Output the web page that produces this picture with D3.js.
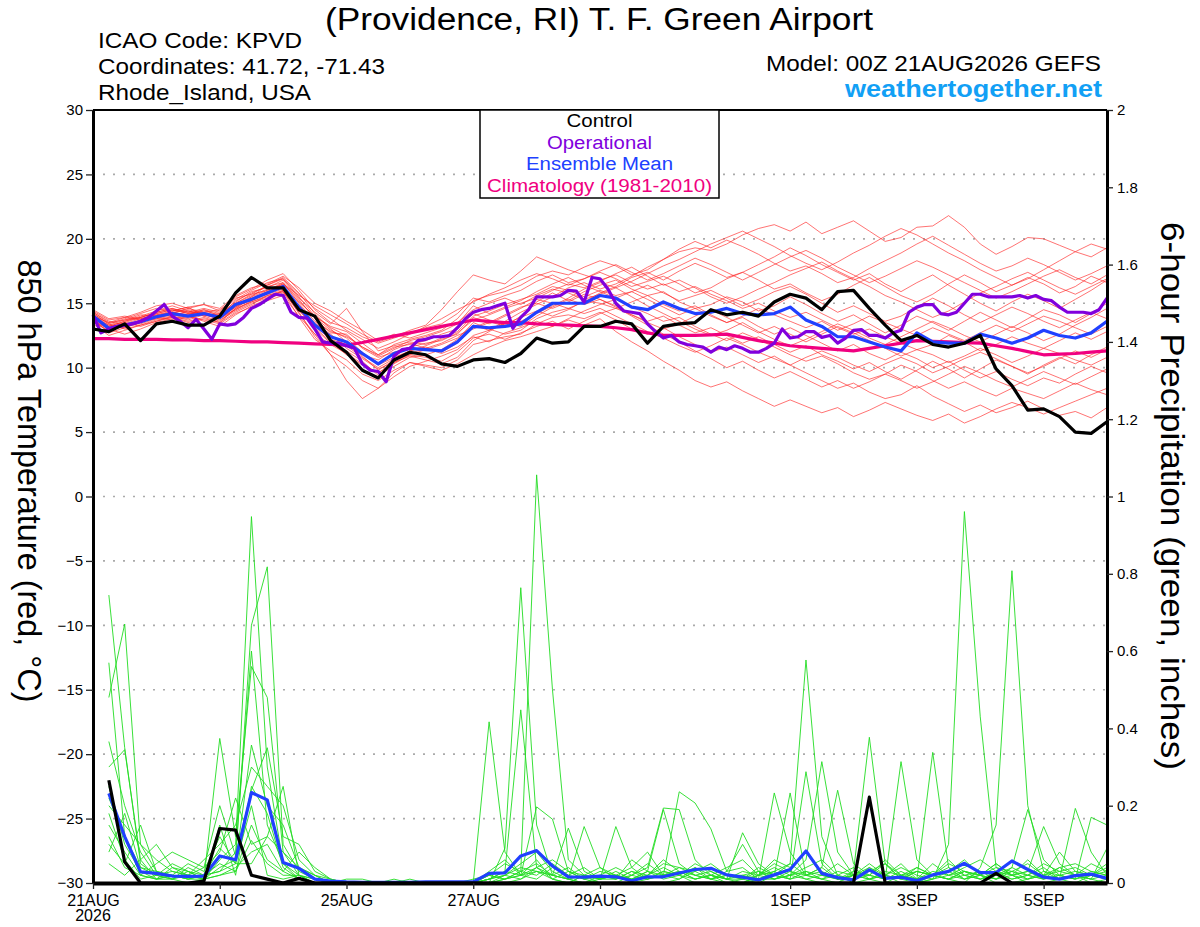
<!DOCTYPE html>
<html>
<head>
<meta charset="utf-8">
<title>KPVD GEFS 850 hPa Temperature / 6-hour Precipitation</title>
<script src="https://cdn.jsdelivr.net/npm/d3@7"></script>
<style>
  body { margin: 0; background: #fff; }
  svg { display: block; font-family: "Liberation Sans", Arial, Helvetica, sans-serif; }
  .grid line { stroke: #aaa; stroke-width: 1.6; stroke-dasharray: 2, 8; }
  .member-t { fill: none; stroke: #ff2020; stroke-width: 0.9; stroke-opacity: 0.7; }
  .member-p { fill: none; stroke: #22dd22; stroke-width: 0.9; }
  .main-line { fill: none; stroke-width: 3.2; stroke-linejoin: round; }
</style>
</head>
<body>
<div id="chart"></div>
<script>
// time steps (hours from 00Z 21AUG2026)
var runHours = d3.range(0, 385, 6);
var opHours = d3.range(0, 385, 3);

var dateLabels = ["21AUG", "23AUG", "25AUG", "27AUG", "29AUG", "1SEP", "3SEP", "5SEP"];
var dateHours = [0, 48, 96, 144, 192, 264, 312, 360];
var tempTicks = d3.range(-30, 31, 5);
var precipTicks = d3.range(0, 11).map(function (d) { return d / 5; });

var legendNames = ["Control", "Operational", "Ensemble Mean", "Climatology (1981-2010)"];
var legendColors = ["#000000", "#8000dd", "#2040ff", "#f00080"];

// 850 hPa temperature, deg C
var controlTemp = [13.0, 12.8, 13.4, 12.1, 13.4, 13.6, 13.3, 13.3, 14.0, 15.8, 17.0, 16.2, 16.2, 14.5, 14.0, 12.1, 11.2, 9.8, 9.2, 10.6, 11.2, 11.0, 10.3, 10.1, 10.6, 10.7, 10.4, 11.1, 12.3, 11.9, 12.0, 13.2, 13.2,
  13.6, 13.4, 11.9, 13.2, 13.4, 13.5, 14.5, 14.1, 14.3, 14.0, 15.1, 15.7, 15.4, 14.5, 15.9, 16.0, 14.6, 13.3, 12.1, 12.5, 11.8, 11.6, 11.9, 12.5, 9.9, 8.6, 6.7, 6.8, 6.2, 5.0, 4.9, 5.8];

var meanTemp = [14.0, 13.05, 13.3, 13.56, 13.95, 14.2, 14.0, 14.2, 13.9, 14.9, 15.3, 15.8, 16.3, 14.7, 13.3, 12.4, 12.0, 11.1, 10.3, 11.1, 11.5, 11.4, 11.3, 12.0, 13.2, 13.1, 13.2, 13.4, 14.3, 15.0, 15.0, 15.0, 15.6,
  15.4, 14.7, 14.5, 15.1, 14.6, 14.2, 14.3, 14.6, 14.2, 14.1, 14.2, 14.7, 13.7, 13.2, 12.4, 12.4, 12.0, 11.6, 11.3, 12.7, 12.0, 11.9, 11.9, 12.6, 12.3, 11.9, 12.3, 12.9, 12.5, 12.3, 12.7, 13.6];

var climTemp = [12.25, 12.25, 12.2, 12.2, 12.2, 12.15, 12.15, 12.1, 12.1, 12.05, 12.0, 12.0, 11.95, 11.9, 11.85, 11.8, 11.75,
  11.95, 12.2, 12.45, 12.7, 12.95, 13.2, 13.45, 13.7, 13.6, 13.5, 13.5, 13.4, 13.35, 13.3, 13.25, 13.2,
  13.1, 12.95, 12.7, 12.5, 12.5, 12.5, 12.55, 12.6, 12.35, 12.1, 11.9, 11.7, 11.6, 11.5, 11.4, 11.3,
  11.5, 11.7, 11.9, 12.1, 12.05, 12.0, 11.95, 11.9, 11.7, 11.5, 11.25, 11.0, 11.05, 11.1, 11.2, 11.3];

// operational run, 3-hourly
var opTemp = [14.1, 12.7, 13.0, 13.2, 13.3, 13.4, 13.6, 13.9, 14.4, 14.9, 14.0, 13.6, 13.1, 13.75, 13.0, 12.2,
  13.4, 13.3, 13.4, 13.9, 14.6, 14.9, 15.3, 15.7, 15.6, 14.3, 13.9, 13.85, 13.0, 12.0, 11.9, 11.9,
  11.7, 11.5, 10.3, 9.8, 9.7, 8.9, 10.9, 11.4, 11.5, 12.1, 12.2, 12.4, 12.4, 12.5, 13.1, 13.8,
  14.3, 14.5, 14.6, 14.8, 15.0, 13.05, 13.9, 14.5, 15.5, 15.5, 15.5, 15.6, 16.0, 15.95, 15.1, 17.0,
  16.9, 16.1, 15.0, 14.4, 14.3, 14.2, 13.4, 12.8, 12.3, 12.5, 12.0, 11.8, 11.7, 11.6, 11.2, 11.6,
  11.4, 11.7, 11.5, 11.2, 11.2, 11.5, 11.9, 13.0, 12.3, 12.4, 12.8, 12.8, 12.35, 12.5, 11.9, 12.3,
  12.9, 12.95, 12.5, 12.5, 12.3, 12.7, 12.9, 14.3, 14.7, 14.9, 14.9, 14.2, 14.1, 14.3, 15.0, 15.7,
  15.7, 15.5, 15.5, 15.5, 15.5, 15.6, 15.4, 15.6, 15.3, 15.2, 14.7, 14.3, 14.3, 14.3, 14.2, 14.5,
  15.4];

var memberTemps = [
  [13.8, 13.2, 13.6, 13.9, 14.3, 14.6, 14.2, 14.5, 14.0, 15.2, 15.8, 16.3, 16.6, 15.0, 13.6, 12.8, 12.4, 11.6, 11.0, 11.8, 12.2, 12.5, 12.9, 13.8, 15.2, 15.6, 15.9, 16.4, 17.1, 17.5, 17.2, 17.8, 18.3, 17.9, 17.2, 17.6, 18.4, 19.0, 19.3, 19.1, 19.6, 20.3, 20.8, 21.1, 20.6, 21.3, 20.4, 20.9, 21.4, 20.6, 19.8, 20.1, 20.9, 21.0, 21.8, 20.9, 19.6, 18.8, 19.4, 20.1, 20.0, 19.5, 19.0, 18.6, 19.3],
  [14.2, 13.4, 13.0, 13.3, 13.6, 13.9, 13.5, 13.8, 13.5, 14.6, 15.1, 15.5, 15.9, 14.3, 12.4, 11.0, 10.1, 9.0, 8.4, 9.6, 10.4, 10.2, 10.0, 10.6, 11.8, 12.1, 12.4, 12.6, 13.4, 13.9, 14.1, 13.8, 14.3, 13.7, 13.0, 12.6, 13.1, 12.4, 11.8, 11.2, 11.6, 11.0, 10.4, 10.9, 10.2, 9.6, 9.0, 8.4, 8.8, 8.1, 7.6, 7.9, 8.6, 7.8, 7.2, 6.6, 7.1, 6.5, 6.9, 7.4, 6.8, 6.3, 6.6, 6.1, 6.9],
  [13.6, 12.8, 13.4, 13.8, 14.1, 14.4, 14.7, 14.0, 13.6, 14.6, 15.4, 15.9, 16.5, 15.2, 13.9, 12.9, 12.3, 11.2, 10.2, 10.8, 11.3, 11.6, 11.2, 11.9, 13.1, 13.6, 13.2, 14.0, 15.1, 15.8, 15.2, 15.9, 16.4, 16.8, 16.1, 15.6, 15.9, 15.1, 14.6, 14.9, 15.5, 15.1, 14.4, 14.8, 15.5, 14.9, 14.2, 13.6, 14.1, 13.4, 12.7, 13.3, 14.0, 13.5, 12.9, 13.6, 14.3, 13.7, 13.1, 13.8, 14.5, 14.1, 13.5, 14.2, 15.0],
  [14.4, 13.7, 13.9, 14.3, 14.8, 15.0, 14.6, 14.9, 14.4, 15.5, 16.1, 16.8, 17.3, 16.0, 14.5, 13.5, 13.1, 12.4, 11.9, 12.3, 12.7, 13.1, 13.4, 14.2, 15.4, 15.1, 15.6, 16.0, 16.7, 17.2, 16.6, 16.9, 17.4, 16.9, 16.3, 16.7, 17.1, 16.5, 15.8, 16.2, 16.9, 17.4, 16.8, 16.1, 16.5, 15.8, 15.2, 15.7, 16.4, 17.0, 16.3, 15.6, 15.1, 15.7, 16.5, 17.2, 16.6, 15.9, 16.4, 17.0, 16.5, 15.8, 16.3, 17.1, 16.6],
  [13.9, 13.0, 12.6, 13.0, 13.5, 13.8, 14.0, 13.6, 13.2, 14.1, 14.8, 15.3, 15.8, 14.9, 13.4, 12.6, 11.5, 10.7, 9.9, 10.4, 10.9, 10.6, 10.3, 10.8, 12.1, 12.8, 13.5, 13.2, 14.0, 14.7, 15.3, 14.9, 15.3, 14.8, 14.1, 13.6, 14.0, 13.3, 12.7, 13.1, 12.5, 11.9, 12.4, 11.8, 11.2, 11.7, 11.0, 10.5, 9.9, 10.4, 9.7, 9.1, 9.8, 10.5, 9.9, 9.2, 9.9, 10.6, 10.1, 9.5, 10.2, 10.8, 10.3, 11.0, 11.6],
  [14.1, 13.3, 13.7, 14.1, 14.0, 14.3, 14.1, 14.4, 14.1, 15.0, 15.6, 16.1, 16.4, 14.6, 13.0, 11.9, 11.3, 10.5, 9.4, 10.1, 10.8, 11.0, 11.4, 12.2, 13.5, 13.0, 12.6, 12.9, 13.8, 14.3, 14.6, 15.1, 15.8, 16.3, 17.0, 17.4, 16.8, 17.5, 18.1, 17.6, 17.0, 17.4, 18.0, 18.6, 19.3, 18.7, 18.0, 17.4, 16.8, 17.3, 16.5, 15.9, 16.6, 17.2, 16.4, 15.7, 15.0, 14.4, 15.1, 15.7, 15.2, 14.6, 15.3, 16.0, 16.8],
  [13.5, 12.9, 13.2, 13.5, 13.9, 14.1, 13.8, 14.2, 13.7, 14.4, 15.0, 15.4, 16.0, 14.2, 12.6, 11.0, 9.0, 7.6, 8.4, 9.3, 10.1, 10.5, 10.9, 11.4, 12.5, 12.9, 13.4, 13.9, 14.4, 14.0, 14.5, 15.2, 15.0, 14.6, 15.1, 15.6, 14.9, 14.4, 14.8, 14.1, 13.5, 13.9, 13.2, 12.6, 13.1, 12.5, 11.9, 11.3, 11.8, 11.1, 10.6, 11.2, 10.7, 10.0, 10.5, 9.8, 9.2, 9.7, 9.1, 8.6, 9.2, 8.8, 9.5, 10.1, 9.6],
  [14.0, 13.5, 13.9, 13.7, 14.2, 14.5, 14.3, 14.0, 14.2, 15.1, 15.9, 16.2, 16.8, 15.4, 14.3, 13.4, 14.6, 12.8, 11.3, 11.7, 12.0, 11.8, 12.3, 12.8, 14.0, 14.4, 14.9, 15.3, 15.7, 16.3, 16.0, 15.5, 16.0, 15.6, 15.9, 16.4, 15.8, 15.2, 15.6, 16.0, 15.4, 14.8, 15.3, 15.9, 16.3, 15.7, 15.0, 14.3, 14.8, 14.2, 13.6, 14.0, 14.7, 15.4, 14.8, 14.1, 13.5, 14.1, 14.7, 14.2, 13.6, 13.1, 13.7, 14.3, 13.8],
  [13.7, 13.1, 13.5, 13.2, 13.6, 14.0, 14.4, 14.1, 13.8, 14.8, 15.2, 15.7, 16.1, 14.4, 13.2, 12.2, 11.8, 11.0, 10.6, 11.4, 11.9, 11.5, 11.1, 11.6, 12.4, 12.0, 12.7, 13.1, 13.6, 13.2, 13.8, 14.4, 14.9, 15.3, 14.7, 14.2, 13.6, 13.9, 13.2, 12.6, 12.1, 12.7, 12.2, 11.6, 11.0, 10.5, 10.9, 10.3, 9.6, 9.1, 9.5, 10.2, 9.7, 9.0, 8.4, 8.9, 8.3, 7.8, 8.4, 8.0, 7.6, 8.2, 8.8, 8.3, 7.9],
  [14.3, 13.6, 13.3, 13.7, 14.0, 14.2, 14.6, 14.3, 14.5, 15.4, 15.7, 16.0, 16.5, 15.6, 14.8, 14.1, 13.4, 12.6, 12.0, 12.4, 12.9, 13.3, 14.5, 15.9, 17.2, 16.8, 16.5, 17.5, 18.6, 18.1, 17.6, 17.2, 16.8, 17.2, 16.6, 16.1, 16.5, 15.9, 16.3, 15.7, 15.2, 14.6, 15.0, 14.4, 13.9, 14.3, 13.7, 13.1, 12.6, 13.0, 12.4, 11.9, 11.4, 11.8, 12.5, 12.0, 11.3, 11.8, 12.4, 11.9, 11.5, 12.1, 12.7, 12.2, 12.8],
  [13.8, 12.7, 13.1, 13.6, 13.8, 14.0, 13.7, 14.1, 13.9, 14.7, 15.3, 15.9, 16.2, 15.1, 14.0, 13.2, 12.8, 11.9, 11.0, 11.6, 11.8, 12.1, 12.6, 13.0, 14.2, 13.7, 13.3, 13.6, 14.2, 14.8, 15.4, 16.1, 16.6, 16.2, 15.5, 14.8, 14.2, 13.6, 13.0, 12.5, 12.9, 13.5, 12.8, 12.2, 11.7, 12.2, 12.8, 13.4, 12.9, 12.3, 11.8, 12.4, 13.0, 13.6, 13.1, 12.5, 12.0, 12.6, 13.2, 12.7, 12.1, 12.6, 13.3, 13.9, 14.6],
  [14.5, 13.8, 14.0, 13.8, 14.1, 14.3, 14.1, 14.5, 14.2, 14.9, 15.5, 16.4, 17.0, 15.8, 14.2, 13.0, 12.0, 10.9, 9.8, 10.6, 11.0, 11.4, 11.8, 12.3, 13.3, 12.9, 13.6, 14.3, 14.9, 15.5, 16.2, 16.6, 16.1, 16.5, 17.1, 17.8, 18.4, 19.2, 19.8, 19.3, 19.9, 19.4, 18.8, 18.1, 17.5, 17.9, 17.3, 16.6, 17.0, 17.7, 18.3, 18.9, 19.6, 20.2, 19.5, 18.8, 18.1, 17.5, 17.9, 18.5, 18.0, 17.4, 16.8, 17.3, 17.9],
  [13.4, 12.5, 12.9, 13.3, 13.7, 13.9, 13.6, 13.9, 13.5, 14.3, 14.9, 15.6, 15.9, 13.9, 12.2, 11.3, 10.6, 9.5, 9.0, 9.8, 10.4, 10.1, 9.8, 10.3, 11.0, 11.6, 12.1, 12.4, 12.8, 13.2, 13.7, 13.3, 13.8, 12.8, 12.0, 11.3, 10.5, 9.8, 9.0, 8.5, 8.9, 8.2, 7.6, 7.0, 7.5, 7.0, 6.5, 6.9, 6.2, 6.7, 7.3, 6.8, 6.3, 5.9, 6.4, 5.7, 6.2, 6.8, 7.3, 6.9, 6.4, 6.9, 7.4, 7.9, 8.4],
  [14.0, 13.2, 13.6, 14.0, 14.4, 14.8, 14.4, 14.1, 13.8, 14.7, 15.5, 16.0, 16.6, 15.3, 13.8, 12.7, 12.6, 11.5, 10.8, 11.2, 11.6, 11.9, 12.1, 12.7, 13.7, 14.1, 14.6, 15.0, 15.4, 16.0, 16.5, 16.2, 16.7, 17.3, 17.8, 17.1, 16.4, 16.8, 16.2, 15.5, 15.0, 15.5, 16.1, 16.6, 17.2, 17.7, 18.2, 17.5, 16.9, 16.3, 15.6, 15.1, 14.5, 13.9, 14.4, 15.1, 15.8, 16.3, 16.9, 17.4, 16.8, 16.2, 15.7, 16.3, 16.9],
  [13.6, 13.0, 13.3, 13.4, 13.8, 14.2, 14.0, 13.7, 13.4, 14.2, 14.7, 15.2, 15.6, 14.0, 12.6, 11.8, 11.1, 10.3, 9.6, 10.3, 11.0, 10.8, 10.5, 11.2, 12.3, 12.6, 12.2, 12.7, 13.2, 13.6, 13.0, 13.6, 14.2, 14.6, 14.1, 13.5, 13.0, 13.4, 14.0, 14.5, 13.9, 13.3, 12.7, 13.2, 12.6, 12.0, 12.6, 13.2, 12.7, 12.1, 11.5, 10.9, 11.4, 11.0, 10.4, 10.9, 11.5, 11.0, 10.4, 10.9, 11.5, 11.1, 10.6, 10.2, 10.8],
  [14.2, 13.4, 13.8, 14.2, 14.6, 14.4, 14.7, 14.9, 14.6, 15.6, 16.2, 16.5, 17.1, 16.2, 15.0, 14.4, 13.6, 12.9, 12.1, 12.6, 12.3, 12.7, 13.1, 13.5, 14.5, 15.0, 15.4, 14.9, 15.6, 16.1, 15.8, 15.3, 15.7, 16.2, 16.7, 17.3, 17.9, 18.4, 19.0, 19.6, 20.1, 20.6, 20.0, 19.4, 18.7, 18.1, 17.6, 18.2, 18.9, 19.5, 20.2, 20.8, 20.3, 19.6, 18.9, 18.3, 17.6, 17.0, 16.4, 16.9, 17.6, 18.3, 19.0, 19.6, 19.2],
  [13.9, 13.3, 13.1, 13.5, 13.9, 13.7, 13.9, 14.2, 13.9, 14.5, 15.2, 15.8, 16.3, 14.7, 13.5, 12.5, 11.7, 10.8, 10.0, 10.7, 11.3, 11.7, 12.2, 12.6, 13.9, 13.4, 14.0, 14.6, 15.3, 15.0, 14.6, 14.2, 14.6, 14.0, 13.4, 12.8, 12.3, 11.7, 11.2, 11.7, 12.3, 11.8, 11.2, 10.7, 10.2, 10.8, 11.3, 10.8, 10.2, 9.7, 10.3, 10.8, 10.3, 9.6, 10.1, 10.7, 11.2, 10.7, 10.1, 9.6, 10.1, 10.7, 11.3, 10.8, 11.4],
  [14.1, 13.1, 13.5, 13.9, 14.3, 14.6, 14.3, 14.6, 14.3, 15.3, 16.0, 16.6, 16.9, 15.5, 14.0, 13.1, 12.5, 11.6, 10.9, 11.5, 12.1, 12.4, 12.8, 13.4, 14.8, 14.2, 14.7, 15.2, 15.9, 16.5, 17.0, 16.4, 15.9, 15.4, 15.9, 15.3, 14.7, 14.1, 14.6, 14.0, 13.5, 14.0, 14.6, 14.1, 13.6, 13.1, 13.6, 12.9, 13.4, 14.0, 13.5, 13.0, 12.5, 13.1, 12.6, 12.1, 12.7, 13.3, 12.8, 13.4, 14.0, 13.6, 13.1, 12.6, 13.2],
  [13.7, 13.0, 13.2, 13.6, 14.0, 14.3, 14.5, 14.2, 13.8, 14.5, 15.1, 15.6, 16.0, 14.5, 13.1, 12.0, 11.0, 10.2, 9.6, 10.4, 11.1, 11.5, 11.9, 12.5, 13.0, 13.5, 14.1, 14.7, 15.0, 14.6, 15.1, 15.7, 15.3, 14.7, 14.0, 13.3, 12.6, 12.0, 11.3, 10.7, 10.0, 10.5, 9.8, 9.2, 9.7, 9.1, 8.5, 9.0, 8.4, 8.9, 9.5, 9.0, 8.4, 8.9, 9.5, 10.1, 9.6, 9.0, 8.5, 9.1, 9.7, 9.2, 8.7, 9.3, 9.9],
  [14.3, 13.5, 13.7, 13.9, 14.2, 14.5, 14.2, 14.3, 14.0, 15.0, 15.7, 16.4, 16.9, 15.7, 14.6, 13.8, 12.9, 12.2, 11.5, 12.0, 12.6, 13.2, 13.8, 14.5, 15.1, 15.7, 16.2, 16.8, 17.3, 16.9, 16.4, 16.9, 17.5, 18.0, 17.4, 16.8, 17.3, 17.9, 18.5, 18.0, 17.4, 16.8, 17.4, 18.0, 18.6, 19.1, 18.5, 17.8, 17.2, 16.6, 17.1, 17.7, 18.3, 17.8, 17.2, 16.6, 16.0, 15.4, 15.9, 16.5, 17.1, 17.6, 17.0, 16.5, 17.2]
];

// 6-hour precipitation, inches (first value is the 06Z total)
var controlPrecip = [.266, .055, 0, 0, 0, 0, .005, .141, .137, .02, .01, 0, .012, 0, 0, 0,
  0, 0, 0, 0, 0, 0, 0, 0, 0, 0, 0, 0, 0, 0, 0, 0,
  0, 0, 0, 0, 0, 0, 0, 0, 0, 0, 0, 0, 0, 0, 0, 0,
  .222, 0, 0, 0, 0, 0, 0, 0, .025, 0, 0, 0, 0, 0, 0, 0];

var meanPrecip = [.232, .12, .029, .025, .018, .017, .018, .07, .06, .234, .215, .053, .038, .01, .005, .003,
  .002, .002, .002, .002, .003, .003, .003, .003, .025, .026, .07, .084, .044, .016, .015, .018,
  .016, .006, .016, .016, .026, .035, .038, .021, .015, .008, .021, .035, .083, .025, .014, .008,
  .034, .012, .015, .006, .021, .03, .051, .027, .027, .057, .035, .015, .01, .019, .023, .012];

var memberPrecip = [
  [.745, .35, .05, .02, .01, 0, .01, .06, .10, .948, .30, .05, .02, 0, 0, 0, 0, 0, 0, 0, 0, 0, 0, 0, .02, .05, .03, 1.056, .50, .06, .02, 0, 0, 0, .01, .03, .02, 0, 0, 0, 0, .02, .05, .03, .01, 0, 0, .02, .05, .02, 0, 0, .01, .03, .06, .02, 0, 0, .01, .02, .04, .02, 0, .01],
  [.57, .12, .04, .02, .03, .02, .01, .04, .06, .667, .818, .10, .03, .01, 0, 0, 0, 0, 0, 0, 0, 0, 0, 0, 0, .09, .764, .15, .02, .01, 0, .01, .02, 0, 0, 0, .01, .04, .02, 0, .01, 0, .02, .05, .577, .12, .02, 0, .01, 0, .02, 0, .01, .10, .961, .43, .04, .02, 0, 0, .01, .02, .01, 0],
  [.48, .67, .10, .03, .01, .04, .02, .03, .08, .60, .15, .05, .01, 0, 0, 0, 0, 0, 0, 0, 0, 0, 0, 0, .417, .08, .02, .03, .01, 0, .02, .04, .01, .06, .03, .19, .05, .02, .01, 0, 0, .01, .233, .08, .02, .01, 0, .03, .377, .05, .01, 0, .02, .01, 0, .04, .15, .808, .20, .03, .01, 0, .02, .05],
  [.366, .20, .08, .02, .05, .03, .01, .374, .12, .56, .48, .08, .02, 0, 0, .01, .01, 0, 0, 0, 0, 0, 0, 0, .01, .03, .448, .04, .01, 0, .02, .01, .146, .04, .01, .02, .03, .01, .02, .01, .13, .05, .02, .233, .02, .04, .01, .01, .02, .06, .02, .01, .338, .04, .01, .02, .01, .03, .05, .02, .01, .193, .08, .02],
  [.30, .345, .06, .01, .02, .05, .03, .12, .05, .357, .20, .15, .04, .02, 0, 0, 0, 0, 0, .01, 0, 0, 0, 0, 0, .01, .02, .197, .165, .03, .01, 0, 0, .02, .04, .194, .19, .06, .02, .01, 0, .02, .03, .01, .288, .05, .01, .02, .04, .01, .314, .06, .02, .01, .02, .03, .01, .04, .19, .06, .02, .01, .17, .15],
  [.20, .15, .10, .06, .03, .02, .04, .20, .07, .24, .35, .12, .10, .03, .01, 0, 0, 0, 0, 0, 0, 0, 0, 0, .02, .01, .03, .05, .02, .142, .03, .01, .02, .01, .03, .02, .236, .207, .14, .03, .10, .03, .01, .02, .06, .314, .08, .02, .01, .02, .01, .04, .02, .01, .03, .02, .05, .02, .03, .146, .05, .02, .01, .02],
  [.25, .10, .03, .01, .01, .02, .06, .10, .15, .30, .25, .20, .06, .02, .01, 0, 0, 0, 0, 0, 0, 0, 0, 0, .01, .02, .05, .08, .03, .01, .146, .04, .02, .01, .02, .06, .03, .02, .01, .02, .01, .03, .02, .01, .02, .04, .24, .05, .02, .01, .03, .01, .05, .02, .01, .03, .02, .01, .02, .05, .03, .02, .01, .09],
  [.15, .08, .02, .05, .08, .06, .04, .08, .22, .10, .12, .25, .02, .01, 0, 0, 0, 0, 0, 0, 0, 0, 0, 0, .03, .06, .02, .01, .04, .02, .01, .03, .02, .04, .08, .02, .01, .03, .05, .02, .01, .02, .06, .04, .08, .02, .01, .03, .02, .05, .01, .03, .02, .06, .02, .01, .03, .02, .06, .02, .08, .03, .02, .04],
  [.10, .05, .15, .03, .02, .01, .02, .05, .03, .15, .06, .03, .01, 0, 0, 0, 0, 0, .01, 0, 0, 0, 0, 0, 0, 0, .01, .03, .02, .01, 0, .02, .01, .03, .01, .02, .04, .03, .01, .02, .02, .01, .01, .03, .02, .01, .03, .02, .01, .03, .02, .01, .02, .03, .01, .02, .01, .02, .01, .03, .02, .01, .02, .03],
  [.05, .02, .06, .10, .04, .03, .01, .02, .04, .08, .10, .03, .08, .04, .01, 0, 0, 0, 0, 0, 0, 0, 0, 0, 0, .01, .02, .04, .06, .03, .01, .02, .04, .02, .01, .03, .02, .05, .03, .01, .02, .03, .01, .02, .03, .01, .02, .04, .01, .02, .04, .02, .01, .02, .03, .01, .02, .04, .02, .01, .02, .03, .02, .01],
  [.12, .04, .02, .01, .02, .01, .02, .03, .05, .05, .12, .08, .04, .02, 0, 0, 0, 0, 0, 0, 0, 0, 0, .01, .02, .01, .03, .02, .05, .02, .04, .01, .01, .02, .05, .02, .03, .01, .02, .04, .06, .02, .04, .02, .01, .02, .05, .02, .03, .05, .02, .04, .02, .01, .03, .02, .05, .02, .03, .01, .04, .05, .03, .02],
  [.08, .18, .04, .03, .02, .01, .01, .02, .03, .11, .05, .02, .02, .01, 0, 0, 0, 0, 0, 0, 0, 0, 0, 0, .01, .02, .01, .04, .02, .01, .02, .01, .02, .01, .02, .04, .02, .01, .02, .01, .01, .04, .02, .01, .03, .02, .01, .02, .02, .01, .02, .03, .02, .04, .02, .01, .02, .03, .02, .01, .02, .01, .03, .02],
  [.18, .06, .01, .02, .01, .03, .02, .09, .05, .20, .02, .01, .02, 0, 0, 0, 0, 0, 0, 0, 0, 0, 0, 0, .01, .03, .02, .06, .01, .03, .02, .01, .03, .01, .03, .01, .02, .04, .01, .03, .04, .01, .03, .05, .02, .03, .01, .02, .03, .02, .05, .01, .03, .02, .04, .06, .03, .01, .02, .04, .01, .02, .05, .03],
  [.22, .12, .02, .01, .04, .02, .01, .15, .02, .25, .18, .04, .01, 0, 0, 0, 0, 0, 0, 0, 0, 0, 0, 0, 0, .02, .04, .03, .02, .04, .01, .02, .01, .03, .02, .05, .04, .02, .03, .01, .03, .02, .01, .02, .04, .06, .02, .01, .04, .02, .01, .03, .02, .05, .03, .02, .04, .03, .01, .02, .03, .04, .02, .01]
];

function MeteogramChart(config) {
    this._config = {
        renderTo: config.renderTo,
        width: 1200,
        height: 927,
        plot: { left: 93, right: 1107, top: 110, bottom: 883 },
        font: '"Liberation Sans", Arial, Helvetica, sans-serif'
    };
    this.renderUI();
}

MeteogramChart.prototype.renderUI = function () {
    var c = this._config, p = c.plot;
    var svg = d3.select(c.renderTo).append("svg")
        .attr("width", c.width)
        .attr("height", c.height);

    this.x = d3.scaleLinear().domain([0, 384]).range([p.left, p.right]);
    this.yT = d3.scaleLinear().domain([-30, 30]).range([p.bottom, p.top]);
    this.yP = d3.scaleLinear().domain([0, 2]).range([p.bottom, p.top]);

    this.drawGrid(svg);
    this.drawSeries(svg);
    this.drawAxes(svg);
    this.drawLegend(svg);
    this.drawTexts(svg);
};

MeteogramChart.prototype.drawGrid = function (svg) {
    var p = this._config.plot, yT = this.yT;
    svg.append("g").attr("class", "grid")
        .selectAll("line")
        .data(tempTicks.filter(function (d) { return d > -30 && d < 30; }))
        .enter().append("line")
        .attr("x1", p.left).attr("x2", p.right)
        .attr("y1", function (d) { return yT(d); })
        .attr("y2", function (d) { return yT(d); });
};

MeteogramChart.prototype.drawSeries = function (svg) {
    var x = this.x, yT = this.yT, yP = this.yP;

    var tempLine = d3.line()
        .x(function (d, i) { return x(runHours[i]); })
        .y(function (d) { return yT(d); });
    var opLine = d3.line()
        .x(function (d, i) { return x(opHours[i]); })
        .y(function (d) { return yT(d); });
    // precip totals start at the 06Z step
    var precipLine = d3.line()
        .x(function (d, i) { return x(runHours[i + 1]); })
        .y(function (d) { return yP(d); });

    var g = svg.append("g");

    g.selectAll(".member-t")
        .data(memberTemps)
        .enter().append("path")
        .attr("class", "member-t")
        .attr("d", tempLine);

    g.selectAll(".member-p")
        .data(memberPrecip)
        .enter().append("path")
        .attr("class", "member-p")
        .attr("d", precipLine);

    g.append("path").attr("class", "main-line")
        .attr("stroke", legendColors[3]).attr("d", tempLine(climTemp));
    g.append("path").attr("class", "main-line")
        .attr("stroke", legendColors[2]).attr("d", tempLine(meanTemp));
    g.append("path").attr("class", "main-line")
        .attr("stroke", legendColors[1]).attr("d", opLine(opTemp));
    g.append("path").attr("class", "main-line")
        .attr("stroke", legendColors[0]).attr("d", tempLine(controlTemp));

    g.append("path").attr("class", "main-line")
        .attr("stroke", legendColors[2]).attr("d", precipLine(meanPrecip));
    g.append("path").attr("class", "main-line")
        .attr("stroke", legendColors[0]).attr("d", precipLine(controlPrecip));
};

MeteogramChart.prototype.drawAxes = function (svg) {
    var c = this._config, p = c.plot;

    var left = svg.append("g")
        .attr("transform", "translate(" + p.left + ",0)")
        .call(d3.axisLeft(this.yT).tickValues(tempTicks).tickSize(7).tickSizeOuter(0).tickPadding(3));
    var right = svg.append("g")
        .attr("transform", "translate(" + p.right + ",0)")
        .call(d3.axisRight(this.yP).tickValues(precipTicks).tickSize(6).tickSizeOuter(0).tickPadding(4)
            .tickFormat(function (d) { return String(+d.toFixed(1)); }));
    var bottom = svg.append("g")
        .attr("transform", "translate(0," + p.bottom + ")")
        .call(d3.axisBottom(this.x).tickValues(dateHours).tickSize(6).tickSizeOuter(0).tickPadding(6)
            .tickFormat(function (d, i) { return dateLabels[i]; }));

    [left, right, bottom].forEach(function (a) {
        a.attr("font-family", c.font).attr("font-size", 15);
        a.selectAll(".tick line").attr("stroke", "#222").attr("stroke-width", 1.3);
        a.select(".domain").attr("stroke", "#000").attr("stroke-width", 3);
    });
    bottom.attr("font-size", 16);
    bottom.select(".domain").attr("stroke-width", 4);

    bottom.append("text")
        .attr("x", this.x(0)).attr("y", 38)
        .attr("fill", "#000").attr("text-anchor", "middle")
        .text("2026");

    // top frame
    svg.append("line")
        .attr("x1", p.left).attr("x2", p.right)
        .attr("y1", p.top).attr("y2", p.top)
        .attr("stroke", "#000").attr("stroke-width", 2);
};

MeteogramChart.prototype.drawLegend = function (svg) {
    var g = svg.append("g");
    g.append("rect")
        .attr("x", 480).attr("y", 110)
        .attr("width", 239).attr("height", 88)
        .attr("fill", "#fff").attr("stroke", "#000").attr("stroke-width", 1.5);

    var widths = [66, 105, 147, 225];
    g.selectAll("text")
        .data(legendNames)
        .enter().append("text")
        .attr("x", 599.5)
        .attr("y", function (d, i) { return 127 + i * 21.7; })
        .attr("text-anchor", "middle")
        .attr("font-size", 18)
        .attr("textLength", function (d, i) { return widths[i]; })
        .attr("lengthAdjust", "spacingAndGlyphs")
        .attr("fill", function (d, i) { return legendColors[i]; })
        .text(function (d) { return d; });
};

MeteogramChart.prototype.drawTexts = function (svg) {
    var add = function (str, x, y, size, len, anchor) {
        return svg.append("text")
            .attr("x", x).attr("y", y)
            .attr("font-size", size)
            .attr("text-anchor", anchor || "start")
            .attr("textLength", len)
            .attr("lengthAdjust", "spacingAndGlyphs")
            .text(str);
    };

    add("(Providence, RI) T. F. Green Airport", 599, 30, 31, 548, "middle");
    add("ICAO Code: KPVD", 98, 48, 22, 204);
    add("Coordinates: 41.72, -71.43", 98, 74, 22, 287);
    add("Rhode_Island, USA", 98, 100, 22, 213);
    add("Model: 00Z 21AUG2026 GEFS", 1101, 71, 22, 335, "end");
    add("weathertogether.net", 1102, 97, 24, 257, "end")
        .attr("font-weight", "bold").attr("fill", "#12a0f5");

    svg.append("text")
        .attr("transform", "translate(18,481) rotate(90)")
        .attr("text-anchor", "middle")
        .attr("font-size", 34)
        .attr("textLength", 443)
        .attr("lengthAdjust", "spacingAndGlyphs")
        .text("850 hPa Temperature (red, \u00b0C)");

    svg.append("text")
        .attr("transform", "translate(1161,496) rotate(90)")
        .attr("text-anchor", "middle")
        .attr("font-size", 34)
        .attr("textLength", 548)
        .attr("lengthAdjust", "spacingAndGlyphs")
        .text("6-hour Precipitation (green, inches)");
};

new MeteogramChart({ renderTo: "#chart" });
</script>
</body>
</html>
